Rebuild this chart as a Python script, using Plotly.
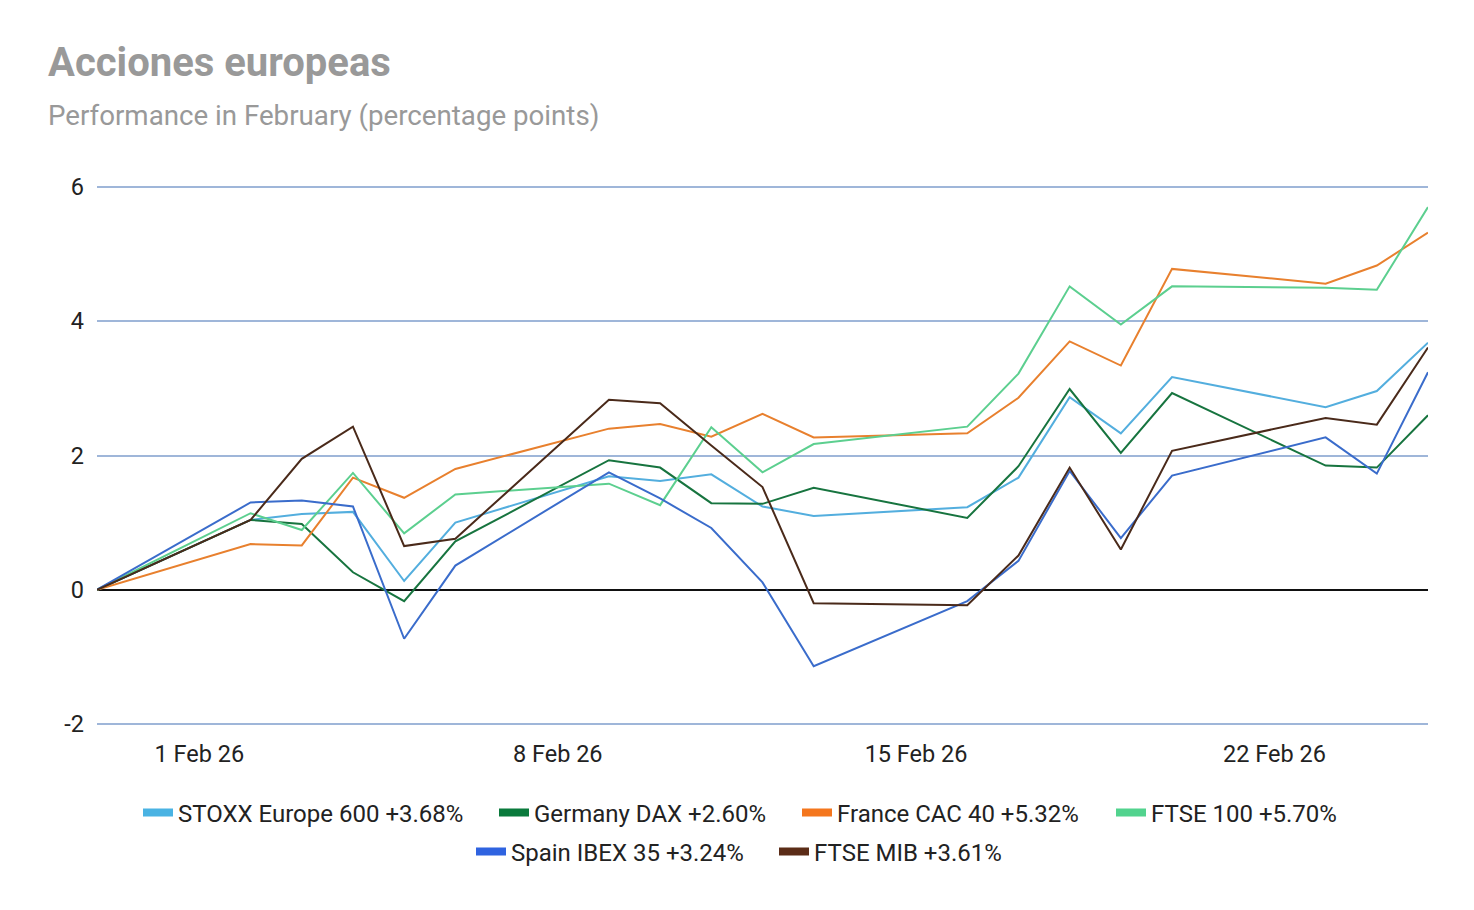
import plotly.graph_objects as go

dates = ["2026-01-30", "2026-02-02", "2026-02-03", "2026-02-04", "2026-02-05", "2026-02-06",
         "2026-02-09", "2026-02-10", "2026-02-11", "2026-02-12", "2026-02-13",
         "2026-02-16", "2026-02-17", "2026-02-18", "2026-02-19", "2026-02-20",
         "2026-02-23", "2026-02-24", "2026-02-25"]

stoxx = [0, 1.04, 1.13, 1.16, 0.13, 1.00, 1.69, 1.62, 1.72, 1.24, 1.10, 1.23, 1.67, 2.87, 2.33, 3.17, 2.72, 2.96, 3.68]
dax = [0, 1.04, 0.98, 0.26, -0.17, 0.72, 1.93, 1.82, 1.29, 1.28, 1.52, 1.07, 1.84, 2.99, 2.04, 2.93, 1.85, 1.82, 2.60]
cac = [0, 0.68, 0.66, 1.67, 1.37, 1.80, 2.40, 2.47, 2.28, 2.62, 2.27, 2.33, 2.86, 3.70, 3.34, 4.78, 4.56, 4.83, 5.32]
ftse100 = [0, 1.14, 0.89, 1.74, 0.84, 1.42, 1.58, 1.26, 2.42, 1.75, 2.17, 2.43, 3.22, 4.52, 3.95, 4.52, 4.50, 4.47, 5.70]
ibex = [0, 1.30, 1.33, 1.24, -0.73, 0.36, 1.75, 1.36, 0.92, 0.11, -1.14, -0.17, 0.43, 1.77, 0.77, 1.70, 2.27, 1.73, 3.24]
mib = [0, 1.04, 1.95, 2.43, 0.65, 0.76, 2.83, 2.78, 2.15, 1.53, -0.20, -0.23, 0.51, 1.82, 0.60, 2.07, 2.56, 2.46, 3.61]

series_names = ["STOXX Europe 600 +3.68%", "Germany DAX +2.60%", "France CAC 40 +5.32%",
                "FTSE 100 +5.70%", "Spain IBEX 35 +3.24%", "FTSE MIB +3.61%"]
series_values = [stoxx, dax, cac, ftse100, ibex, mib]
line_colors = ["#53aede", "#17743f", "#e8802e", "#5ccf8f", "#3a6ccb", "#4a2a1a"]
swatch_colors = ["#4ab3e3", "#0a7a3c", "#f4761d", "#52d38e", "#2f63e0", "#5b2c17"]
legend_ids = ["legend", "legend2", "legend3", "legend4", "legend5", "legend6"]

tick_vals = ["2026-02-01", "2026-02-08", "2026-02-15", "2026-02-22"]
tick_text = ["1 Feb 26", "8 Feb 26", "15 Feb 26", "22 Feb 26"]
y_tick_vals = [-2, 0, 2, 4, 6]
y_tick_text = ["-2", "0", "2", "4", "6"]

fig = go.Figure()
for name, vals, lc in zip(series_names, series_values, line_colors):
    fig.add_trace(go.Scatter(x=dates, y=vals, mode="lines", name=name,
                             line=dict(color=lc, width=2), showlegend=False))
for name, sc, lg in zip(series_names, swatch_colors, legend_ids):
    fig.add_trace(go.Scatter(x=[None], y=[None], mode="lines", name=name,
                             line=dict(color=sc, width=8), showlegend=True, legend=lg))

font_family = "Roboto, Arial, sans-serif"

# plot area in page pixels: x 97..1428, y 185..726 (page has an 8px body offset)
PX0, PW, PY1, PH = 97, 1331, 726, 541
def px_x(px):
    return (px - PX0) / PW
def px_y(py):
    return (PY1 - py) / PH

legend_text_x = [180, 536, 839, 1153, 513, 816]
legend_row_y = [812, 812, 812, 812, 851, 851]

legends = {}
for lg, tx, ty in zip(legend_ids, legend_text_x, legend_row_y):
    legends[lg] = dict(orientation="h", xref="paper", yref="paper",
                       x=px_x(tx - 40 - 2), xanchor="left", y=px_y(ty + 1), yanchor="middle",
                       font=dict(family=font_family, size=24, color="#222222"),
                       itemwidth=30, bgcolor="rgba(0,0,0,0)", borderwidth=0)

fig.update_layout(
    width=1474, height=910,
    margin=dict(l=89, r=54, t=177, b=192, autoexpand=False),
    paper_bgcolor="white", plot_bgcolor="white",
    font=dict(family=font_family, color="#222222"),
    annotations=[
        dict(text="<b>Acciones europeas</b>", xref="paper", yref="paper",
             x=px_x(46), y=px_y(62), xanchor="left", yanchor="middle", showarrow=False,
             font=dict(family=font_family, size=40, color="#999999")),
        dict(text="Performance in February (percentage points)", xref="paper", yref="paper",
             x=px_x(46), y=px_y(116), xanchor="left", yanchor="middle", showarrow=False,
             font=dict(family=font_family, size=27.7, color="#999999")),
    ],
    **legends,
)
fig.update_xaxes(type="date", range=["2026-01-30", "2026-02-25"], tickvals=tick_vals,
                 ticktext=tick_text, showgrid=False, zeroline=False, showline=False,
                 ticks="", tickfont=dict(size=23.5, color="#222222"), ticklabelstandoff=11)
fig.update_yaxes(range=[-2.03, 6.03], tickvals=y_tick_vals, ticktext=y_tick_text, showgrid=True,
                 gridcolor="#9fb6d9", gridwidth=1.5, zeroline=True, zerolinecolor="#111111",
                 zerolinewidth=1.6, showline=False, ticks="",
                 tickfont=dict(size=23.5, color="#222222"), ticklabelstandoff=12)

fig.write_html("out.html")
